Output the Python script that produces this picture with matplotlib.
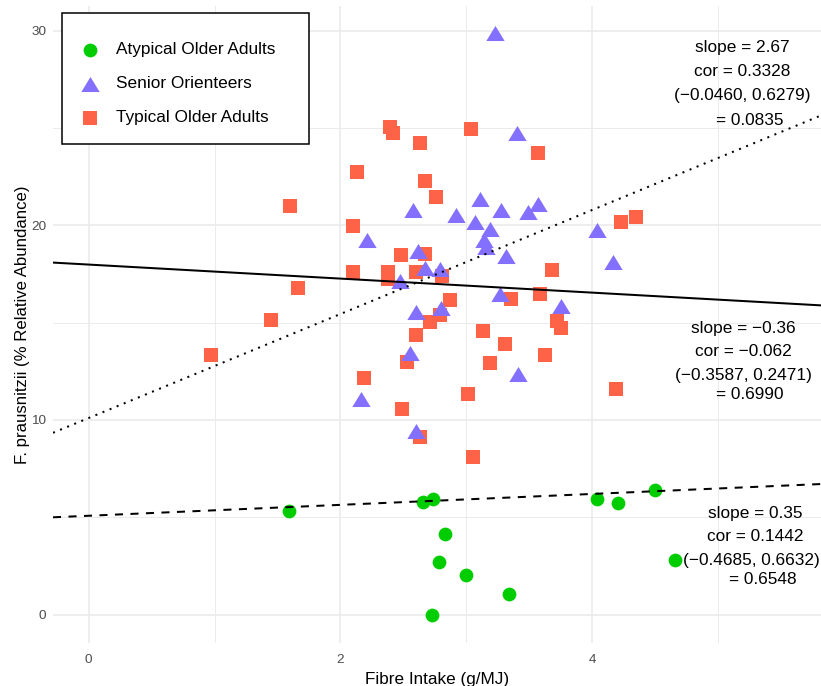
import numpy as np
import matplotlib
matplotlib.use('Agg')
import matplotlib.pyplot as plt
from matplotlib.patches import Rectangle

plt.rcParams['font.family'] = ['Liberation Sans', 'DejaVu Sans']

# ==================================
#               data
# ==================================

groups = ['Atypical Older Adults', 'Senior Orienteers', 'Typical Older Adults']
colors = ['#00CD00', '#8470FF', '#FF6347']

atyp_x = [1.59, 2.66, 2.74, 4.04, 4.21, 4.50, 2.83, 2.78, 3.00, 3.34, 2.73, 4.66]
atyp_y = [5.31, 5.80, 5.93, 5.96, 5.72, 6.40, 4.16, 2.69, 2.02, 1.08, 0.00, 2.79]

senior_x = [3.23, 3.40, 3.11, 2.58, 2.92, 3.28, 3.49, 3.57, 3.07, 3.19, 3.14, 3.16, 4.04, 4.17,
            3.32, 2.62, 2.67, 2.79, 2.475, 3.27, 3.75, 2.60, 2.80, 3.415, 2.55, 2.60, 2.165, 2.21]
senior_y = [29.86, 24.76, 21.35, 20.79, 20.51, 20.79, 20.67, 21.08, 20.18, 19.83, 19.25, 18.87, 19.76, 18.13,
            18.42, 18.70, 17.79, 17.74, 17.13, 16.46, 15.86, 15.56, 15.74, 12.35, 13.43, 9.44, 11.06, 19.24]

typ_x = [0.97, 1.45, 1.60, 1.66, 2.10, 2.10, 2.13, 2.19, 2.395, 2.417, 2.377, 2.377, 2.48, 2.49,
         2.53, 2.60, 2.60, 2.63, 2.63, 2.67, 2.67, 2.71, 2.76, 2.79, 2.81, 2.87, 3.015, 3.04,
         3.055, 3.13, 3.19, 3.31, 3.355, 3.57, 3.59, 3.63, 3.68, 3.72, 3.755, 4.19, 4.23, 4.35]
typ_y = [13.34, 15.14, 20.99, 16.78, 19.94, 17.60, 22.74, 12.16, 25.03, 24.76, 17.60, 17.24, 18.47, 10.56,
         12.99, 17.60, 14.37, 24.24, 9.13, 22.28, 18.53, 15.05, 21.45, 15.39, 17.40, 16.16, 11.34, 24.95,
         8.10, 14.57, 12.93, 13.90, 16.21, 23.71, 16.47, 13.34, 17.70, 15.08, 14.71, 11.59, 20.16, 20.42]

# fitted lines (intercept, slope) as drawn
fit_intercepts = [5.08, 17.98, 10.10]
fit_slopes = [0.28, -0.36, 2.67]
fit_styles = [(0, (4, 3.7)), '-', (0, (1, 2.8))]

# stats labels
stat_labels = [
    ['slope = 2.67', 'cor = 0.3328', '(\u22120.0460, 0.6279)', '= 0.0835'],
    ['slope = \u22120.36', 'cor = \u22120.062', '(\u22120.3587, 0.2471)', '= 0.6990'],
    ['slope = 0.35', 'cor = 0.1442', '(\u22120.4685, 0.6632)', '= 0.6548'],
]
label_pos = [
    [(5.197, 29.11), (5.197, 27.90), (5.197, 26.67), (5.257, 25.40)],
    [(5.201, 14.72), (5.201, 13.50), (5.201, 12.30), (5.257, 11.32)],
    [(5.297, 5.22), (5.297, 4.02), (5.27, 2.80), (5.36, 1.82)],
]

xlim = (-0.284, 5.82)
ylim = (-1.455, 31.26)

# ==================================
#               plot
# ==================================

fig = plt.figure(figsize=(8.21, 6.86), dpi=100)
ax = fig.add_axes([53 / 821, 1 - 643 / 686, 1 - 53 / 821, (643 - 6) / 686])

tri = [(-1, -0.82), (1, -0.82), (0, 0.82)]

h_typ = ax.scatter(typ_x, typ_y, marker='s', s=102, color=colors[2], linewidths=0, zorder=3)
h_sen = ax.scatter(senior_x, senior_y, marker=tri, s=175, color=colors[1], linewidths=0, zorder=4)
h_aty = ax.scatter(atyp_x, atyp_y, marker='o', s=98, color=colors[0], linewidths=0, zorder=5)

xs = np.array(xlim)
for b, m, ls in zip(fit_intercepts, fit_slopes, fit_styles):
    ax.plot(xs, b + m * xs, color='black', lw=1.45, linestyle=ls, zorder=6)

for lines, poss in zip(stat_labels, label_pos):
    for txt, (tx, ty) in zip(lines, poss):
        ax.text(tx, ty, txt, ha='center', va='center', fontsize=12.4, color='black', zorder=7)

ax.set_xlim(xlim)
ax.set_ylim(ylim)
ax.set_xticks([0, 2, 4])
ax.set_yticks([0, 10, 20, 30])
ax.set_xticks([1, 3, 5], minor=True)
ax.set_yticks([5, 15, 25], minor=True)
ax.grid(which='major', color='#EBEBEB', lw=1.2)
ax.grid(which='minor', color='#EBEBEB', lw=0.7)
ax.set_axisbelow(True)
ax.tick_params(which='both', length=0, labelsize=9.7, labelcolor='#4D4D4D')
ax.tick_params(axis='x', pad=8)
ax.tick_params(axis='y', pad=5)
for sp in ax.spines.values():
    sp.set_visible(False)

ax.set_xlabel('Fibre Intake (g/MJ)', fontsize=12.3, labelpad=4)
ax.set_ylabel('F. prausnitzii (% Relative Abundance)', fontsize=12.1, labelpad=0.5)

# legend box
fig.patches.append(Rectangle((62 / 821, 1 - 144.3 / 686), 247.3 / 821, 131.6 / 686,
                             transform=fig.transFigure, facecolor='white',
                             edgecolor='black', lw=1.1, zorder=8))
leg = fig.legend([h_aty, h_sen, h_typ], groups,
                 loc='upper left', bbox_to_anchor=(77 / 821, 1 - 42 / 686),
                 fontsize=12.4, frameon=False,
                 borderpad=0, labelspacing=1.1, handlelength=1.5, handletextpad=0.77,
                 borderaxespad=0)
leg.set_zorder(9)

fig.savefig('out.png', dpi=100)
